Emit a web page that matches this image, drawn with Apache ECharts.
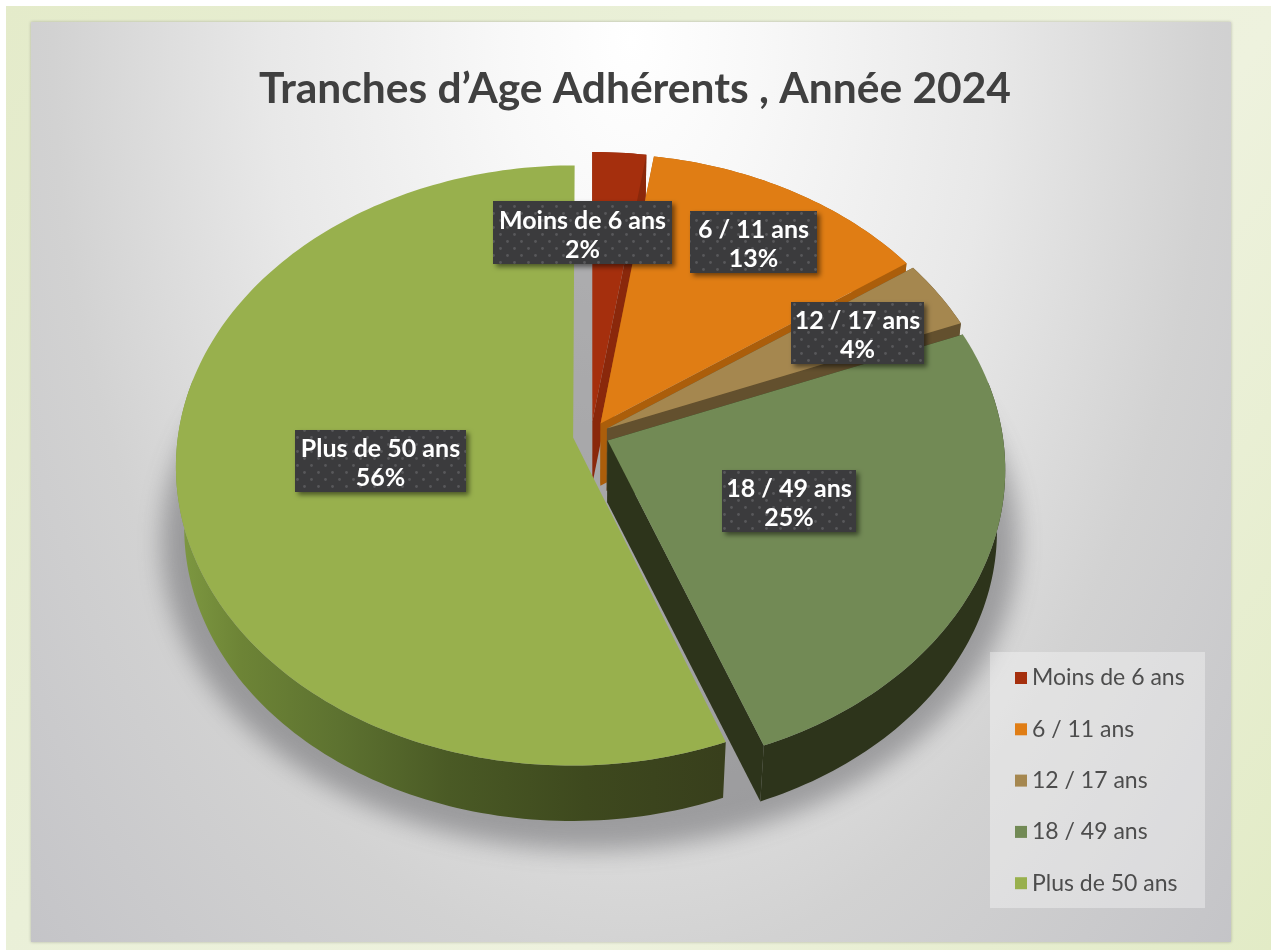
<!DOCTYPE html>
<html><head><meta charset="utf-8">
<style>html,body{margin:0;padding:0;background:#fff}#c{width:1271px;height:950px}</style>
<script src="https://cdn.jsdelivr.net/npm/echarts@6/dist/echarts.min.js"></script>
</head><body><div id="c"></div>
<script>
const categories = ['Moins de 6 ans', '6 / 11 ans', '12 / 17 ans', '18 / 49 ans', 'Plus de 50 ans'];
const shares = [2.4, 12.9, 3.7, 25.2, 55.8];
const titleText = 'Tranches d’Age Adhérents , Année 2024';
const topColors = ['#a52f0d', '#e07d14', '#a5874f', '#728a55', '#98b04d'];
const wallColors = ['#8a280b', '#ab5e0b', '#63502e', '#2d341b', null];
const labelBoxes = [[493,201,179,63],[690,211,127,62],[791,302,133,62],[722,470,134,62],[295,430,171,62]];

const FONT = 'Lato, "Open Sans", sans-serif';
const G = {cx:591, cy:435, A:297, B:395, k:0.0933, d:0.046, s:0.98, T:62};
const total = shares.reduce((a,b)=>a+b,0);
function proj(u,v,bottom){
  const w = 1 + G.k*v;
  let x = G.cx + G.B*u/w, y = G.cy - G.A*v/w;
  if(bottom){ x = G.cx + (x-G.cx)*G.s; y = G.cy + (y-G.cy)*G.s + G.T; }
  return [x,y];
}
const pat = document.createElement('canvas');
pat.width = 14; pat.height = 14;
(function(){
  const c = pat.getContext('2d');
  c.fillStyle = '#3b3b3d'; c.fillRect(0,0,14,14);
  c.fillStyle = '#58585b';
  [[3.5,3.5],[10.5,10.5]].forEach(p=>{c.beginPath();c.arc(p[0],p[1],1.4,0,7);c.fill();});
})();
const plusWall = {type:'linear',x:175,y:0,x2:722,y2:0,global:true,colorStops:[
  {offset:0,color:'#7f9a42'},{offset:.12,color:'#6d8436'},{offset:.3,color:'#5d7230'},
  {offset:.5,color:'#4a5a25'},{offset:.75,color:'#3e491e'},{offset:1,color:'#383f1c'}]};

function renderSlice(idx){
  return function(params, api){
    const val = api.value(0);
    let before = 0;
    for(let i=0;i<idx;i++) before += shares[i];
    const a0 = before/total*2*Math.PI, a1 = (before+val)/total*2*Math.PI, mid=(a0+a1)/2;
    const ox = G.d*Math.sin(mid), oy = G.d*Math.cos(mid);
    const n = Math.max(4, Math.ceil((a1-a0)/0.02));
    const topArc=[], wTop=[], wBot=[];
    const limit = idx < 3 ? 1.1 : 0.2;
    for(let i=0;i<=n;i++){
      const a = a0+(a1-a0)*i/n, u=ox+Math.sin(a), v=oy+Math.cos(a);
      topArc.push(proj(u,v,false));
      if(Math.cos(a) < limit){ wTop.push(proj(u,v,false)); wBot.push(proj(u,v,true)); }
    }
    const apexT = proj(ox,oy,false), apexB = proj(ox,oy,true);
    const sA0 = proj(ox+Math.sin(a0),oy+Math.cos(a0),true), sA1 = proj(ox+Math.sin(a1),oy+Math.cos(a1),true);
    const wallFill = wallColors[idx] || plusWall;
    const edgeFill = wallColors[idx] || '#383f1c';
    const poly = (pts,fill)=>({type:'polygon',shape:{points:pts},style:{fill}});
    const box = labelBoxes[idx];
    const kids = [];
    if(idx < 4){
      kids.push(poly([apexT,topArc[0],sA0,apexB],edgeFill));
      kids.push(poly([apexT,topArc[n],sA1,apexB],edgeFill));
    }
    kids.push(poly(wTop.concat(wBot.slice().reverse()),wallFill));
    kids.push(poly([apexT].concat(topArc),topColors[idx]));
    kids.push({type:'rect',z2:100,shape:{x:box[0],y:box[1],width:box[2],height:box[3]},
       style:{fill:{image:pat,repeat:'repeat'},shadowBlur:5,shadowOffsetX:3,shadowOffsetY:3,shadowColor:'rgba(0,0,0,.5)'}});
    kids.push({type:'text',z2:101,style:{x:box[0]+box[2]/2,y:box[1]+box[3]/2+2.5,align:'center',verticalAlign:'middle',
        text:categories[idx]+'\n'+Math.round(val)+'%',fill:'#fff',font:'bold 25px '+FONT,lineHeight:29}});
    return {type:'group',children:kids};
  };
}

const chart = echarts.init(document.getElementById('c'),null,{renderer:'canvas'});
chart.setOption({
  animation:false,
  backgroundColor:'#ffffff',
  title:{text:titleText,left:630,top:63,textAlign:'center',
    textStyle:{fontFamily:FONT,fontWeight:'bold',fontSize:42.5,color:'#404040'}},
  legend:{data:categories.map((c,i)=>({name:c,icon:'rect',itemStyle:{color:topColors[i]}})),
    orient:'vertical',left:1010,top:661,itemWidth:12,itemHeight:12,itemGap:27.3,selectedMode:false,
    textStyle:{fontFamily:FONT,fontSize:23,color:'#4d4d4d',height:24,lineHeight:24}},
  graphic:[
    {type:'rect',z:-10,shape:{x:6,y:6,width:1265,height:944},style:{fill:{type:'linear',x:0,y:0,x2:1,y2:1,
      colorStops:[{offset:0,color:'#e4ebca'},{offset:.35,color:'#eaf0d8'},{offset:.65,color:'#eef2de'},{offset:1,color:'#e2ebc6'}]}}},
    {type:'rect',z:-9,x:31,y:22,scaleX:1,scaleY:1.6,shape:{x:0,y:0,width:1200,height:575},style:{
      fill:{type:'radial',x:.5,y:.02,r:1.5,colorStops:[{offset:0,color:'#ffffff'},{offset:.15,color:'#f8f8f8'},
        {offset:.42,color:'#e8e8e8'},{offset:.67,color:'#d2d2d2'},{offset:1,color:'#c2c2c6'}]},
      shadowBlur:3,shadowColor:'rgba(120,120,110,.5)'}},
    {type:'ellipse',z:-7,shape:{cx:590-3000,cy:542,rx:428,ry:308},
      style:{fill:'#000',shadowBlur:24,shadowOffsetX:3000,shadowColor:'rgba(70,70,75,.42)'}},
    {type:'rect',z:-6,shape:{x:990,y:652,width:215,height:256},style:{fill:'rgba(255,255,255,.35)'}}
  ],
  series:categories.map((c,i)=>({type:'custom',name:c,coordinateSystem:'none',silent:true,
    renderItem:renderSlice(i),data:[[shares[i]]],itemStyle:{color:topColors[i]}}))
});
</script></body></html>
